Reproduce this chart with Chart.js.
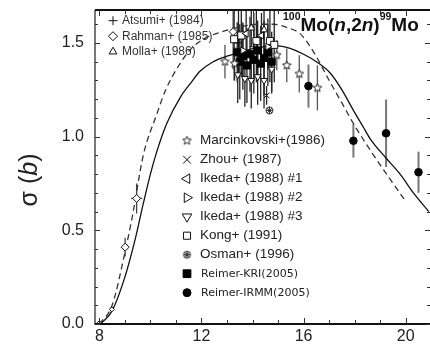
<!DOCTYPE html>
<html>
<head>
<meta charset="utf-8">
<script src="https://cdn.jsdelivr.net/npm/chart.js@4.4.1/dist/chart.umd.min.js"></script>
<style>
  body { margin: 0; background: #fff; }
</style>
</head>
<body>
<canvas id="grafico" width="430" height="345"></canvas>
<script>
const xTicks = [8, 12, 16, 20];
const yTicks = [0, 0.5, 1.0, 1.5];

// evaluation curves (E in MeV, sigma in b)
const solidE = [8.05, 8.5, 9.0, 9.4, 9.7, 10.0, 10.25, 10.64, 11.17, 11.6, 11.95, 12.46, 13.0, 13.5, 14.0, 14.5, 15.0, 15.5, 16.0, 16.5, 17.04, 17.5, 17.95, 18.34, 18.6, 19.2, 19.78, 20.3, 20.9];
const solidS = [0.0, 0.07, 0.25, 0.45, 0.63, 0.80, 0.92, 1.07, 1.21, 1.29, 1.35, 1.40, 1.43, 1.45, 1.47, 1.48, 1.485, 1.47, 1.44, 1.40, 1.34, 1.25, 1.14, 1.05, 0.99, 0.89, 0.80, 0.70, 0.60];
const dashE = [8.0, 8.5, 9.0, 9.3, 9.72, 10.25, 10.6, 11.16, 11.6, 12.07, 12.8, 13.5, 14.2, 14.8, 15.4, 15.86, 16.4, 17.04, 17.5, 17.95, 18.6, 19.3, 19.97];
const dashS = [0.0, 0.10, 0.38, 0.58, 0.90, 1.12, 1.25, 1.39, 1.47, 1.52, 1.56, 1.585, 1.60, 1.60, 1.58, 1.55, 1.45, 1.29, 1.18, 1.07, 0.93, 0.79, 0.66];

// measurements: energy, cross section, error
const atsumiE = [13.45, 14.05];
const atsumiS = [1.50, 1.48];
const atsumiErr = [0.18, 0.18];

const rahmanE = [8.0, 8.49, 9.01, 9.46, 13.24];
const rahmanS = [0.004, 0.078, 0.41, 0.67, 1.56];
const rahmanErr = [0.005, 0.01, 0.05, 0.08, 0.2];
const rahmanEErr = [0, 0, 0.12, 0.22, 0];

const mollaE = [13.95, 14.45];
const mollaS = [1.58, 1.57];
const mollaErr = [0.1, 0.12];

const marcE = [12.92, 13.3, 14.95, 15.34, 15.83, 16.54];
const marcS = [1.40, 1.39, 1.435, 1.38, 1.335, 1.26];
const marcErr = [0.09, 0.09, 0.08, 0.09, 0.1, 0.12];

const zhouE = [14.55];
const zhouS = [1.22];
const zhouErr = [0.05];

const ikeda1E = [13.75, 14.35];
const ikeda1S = [1.55, 1.54];
const ikeda1Err = [0.12, 0.12];

const ikeda2E = [13.62, 14.6];
const ikeda2S = [1.46, 1.48];
const ikeda2Err = [0.14, 0.12];

const ikeda3E = [13.42, 13.7, 13.95, 14.2, 14.45, 14.75];
const ikeda3S = [1.33, 1.31, 1.30, 1.32, 1.30, 1.36];
const ikeda3Err = [0.15, 0.15, 0.15, 0.15, 0.15, 0.13];

const kongE = [13.28, 13.56, 14.15, 14.68, 14.85];
const kongS = [1.52, 1.54, 1.51, 1.51, 1.49];
const kongErr = [0.22, 0.22, 0.22, 0.22, 0.2];

const osmanE = [14.66];
const osmanS = [1.14];
const osmanErr = [0.02];

const kriE = [13.4, 13.5, 13.62, 13.78, 13.9, 14.05, 14.2, 14.32, 14.45, 14.6, 14.75];
const kriS = [1.45, 1.40, 1.43, 1.38, 1.44, 1.41, 1.46, 1.39, 1.42, 1.45, 1.40];
const kriErr = [0.16, 0.2, 0.18, 0.2, 0.2, 0.18, 0.16, 0.2, 0.2, 0.18, 0.16];

const irmmE = [16.19, 17.95, 19.23, 20.5];
const irmmS = [1.27, 0.978, 1.018, 0.81];
const irmmErr = [0.115, 0.09, 0.18, 0.11];

function pts(E, S, err, eErr) {
  return E.map((e, i) => ({ x: e, y: S[i], yErr: err ? err[i] : 0, xErr: eErr ? eErr[i] : 0 }));
}

function makeStar(r) {
  const c = document.createElement('canvas');
  const s = Math.ceil(r * 2 + 4);
  c.width = c.height = s;
  const g = c.getContext('2d');
  g.beginPath();
  for (let i = 0; i < 10; i++) {
    const rr = i % 2 ? r * 0.45 : r;
    const a = -Math.PI / 2 + i * Math.PI / 5;
    g.lineTo(s / 2 + rr * Math.cos(a), s / 2 + rr * Math.sin(a));
  }
  g.closePath();
  g.fillStyle = '#fff';
  g.fill();
  g.strokeStyle = '#222';
  g.lineWidth = 1;
  g.stroke();
  return c;
}

function makeOsman(r) {
  const c = document.createElement('canvas');
  const s = Math.ceil(r * 2 + 4);
  c.width = c.height = s;
  const g = c.getContext('2d');
  const m = s / 2;
  g.strokeStyle = '#333';
  g.lineWidth = 1;
  g.fillStyle = '#fff';
  g.beginPath(); g.arc(m, m, r, 0, Math.PI * 2); g.fill(); g.stroke();
  const d = r * 0.7;
  g.beginPath();
  g.moveTo(m - d, m - d); g.lineTo(m + d, m + d);
  g.moveTo(m + d, m - d); g.lineTo(m - d, m + d);
  g.moveTo(m, m - r); g.lineTo(m, m + r);
  g.moveTo(m - r, m); g.lineTo(m + r, m);
  g.stroke();
  return c;
}

const starImg = makeStar(4.5);
const osmanImg = makeOsman(3.5);

function series(label, data, style, extra) {
  return Object.assign({
    label: label,
    data: data,
    pointStyle: style,
    pointRadius: 4,
    pointBorderWidth: 1,
    borderColor: '#111',
    backgroundColor: '#fff',
    errorBarColor: '#222',
    showLine: false
  }, extra || {});
}

const datasets = [
  series('Atsumi+ (1984)', pts(atsumiE, atsumiS, atsumiErr), 'cross', { pointRadius: 4 }),
  series('Rahman+ (1985)', pts(rahmanE, rahmanS, rahmanErr, rahmanEErr), 'rectRot', { pointRadius: c => (c.raw && c.raw.y < 0.2 ? 2.5 : 4), errorBarColor: '#444' }),
  series('Molla+ (1986)', pts(mollaE, mollaS, mollaErr), 'triangle'),
  series('Marcinkovski+(1986)', pts(marcE, marcS, marcErr), starImg, { errorBarColor: '#555' }),
  series('Zhou+ (1987)', pts(zhouE, zhouS, zhouErr), 'crossRot'),
  series('Ikeda+ (1988) #1', pts(ikeda1E, ikeda1S, ikeda1Err), 'triangle', { pointRotation: -90 }),
  series('Ikeda+ (1988) #2', pts(ikeda2E, ikeda2S, ikeda2Err), 'triangle', { pointRotation: 90 }),
  series('Ikeda+ (1988) #3', pts(ikeda3E, ikeda3S, ikeda3Err), 'triangle', { pointRotation: 180 }),
  series('Kong+ (1991)', pts(kongE, kongS, kongErr), 'rect', { pointRadius: 5 }),
  series('Osman+ (1996)', pts(osmanE, osmanS, osmanErr), osmanImg),
  series('Reimer-KRI(2005)', pts(kriE, kriS, kriErr), 'rect', { pointRadius: 5, backgroundColor: '#000', borderColor: '#000' }),
  series('Reimer-IRMM(2005)', pts(irmmE, irmmS, irmmErr), 'circle', { pointRadius: 3.8, backgroundColor: '#000', borderColor: '#000', errorBarColor: '#777', errorBarWidth: 2 }),
  {
    label: 'eval', data: solidE.map((e, i) => ({ x: e, y: solidS[i] })),
    showLine: true, borderColor: '#111', borderWidth: 1.3, pointRadius: 0,
    cubicInterpolationMode: 'monotone', order: 1, noLegend: true
  },
  {
    label: 'eval2', data: dashE.map((e, i) => ({ x: e, y: dashS[i] })),
    showLine: true, borderColor: '#333', borderWidth: 1.3, borderDash: [6, 4], pointRadius: 0,
    cubicInterpolationMode: 'monotone', order: 1, noLegend: true
  }
];

function drawMarker(ctx, ds, x, y, r) {
  ctx.save();
  ctx.fillStyle = ds.backgroundColor;
  ctx.strokeStyle = ds.borderColor;
  ctx.lineWidth = 1;
  const style = ds.pointStyle;
  if (style instanceof HTMLCanvasElement) {
    ctx.drawImage(style, x - style.width / 2, y - style.height / 2);
  } else {
    Chart.helpers.drawPoint(ctx, { pointStyle: style, radius: r, rotation: ds.pointRotation || 0, borderWidth: 1 }, x, y);
  }
  ctx.restore();
}

const decor = {
  id: 'decor',
  beforeDatasetsDraw(chart) {
    const { ctx, chartArea: a, scales: { x, y } } = chart;
    ctx.save();
    ctx.beginPath();
    ctx.rect(a.left, a.top, a.right - a.left, a.bottom - a.top);
    ctx.clip();
    chart.data.datasets.forEach(ds => {
      if (ds.noLegend) return;
      ctx.strokeStyle = ds.errorBarColor;
      ctx.lineWidth = ds.errorBarWidth || 1.3;
      ds.data.forEach(p => {
        const px = x.getPixelForValue(p.x), py = y.getPixelForValue(p.y);
        ctx.beginPath();
        if (p.yErr) {
          ctx.moveTo(px, y.getPixelForValue(p.y - p.yErr));
          ctx.lineTo(px, y.getPixelForValue(p.y + p.yErr));
        }
        if (p.xErr) {
          ctx.moveTo(x.getPixelForValue(p.x - p.xErr), py);
          ctx.lineTo(x.getPixelForValue(p.x + p.xErr), py);
        }
        ctx.stroke();
      });
    });
    ctx.restore();
  },
  afterDraw(chart) {
    const { ctx, chartArea: a, scales: { x, y } } = chart;
    ctx.save();
    // frame
    ctx.strokeStyle = '#777';
    ctx.lineWidth = 2;
    ctx.beginPath(); ctx.moveTo(a.left, a.top); ctx.lineTo(a.left, a.bottom + 1); ctx.stroke();
    ctx.strokeStyle = '#111';
    ctx.beginPath(); ctx.moveTo(a.left, a.bottom); ctx.lineTo(a.right, a.bottom); ctx.stroke();
    ctx.beginPath(); ctx.moveTo(a.left, a.top); ctx.lineTo(a.right, a.top); ctx.stroke();
    // inward ticks
    ctx.lineWidth = 1;
    ctx.strokeStyle = '#333';
    for (let v = 8; v <= 20; v++) {
      const px = Math.round(x.getPixelForValue(v)) + 0.5;
      const len = v % 4 === 0 ? 6 : 4;
      ctx.beginPath();
      ctx.moveTo(px, a.bottom); ctx.lineTo(px, a.bottom - len);
      ctx.moveTo(px, a.top); ctx.lineTo(px, a.top + len);
      ctx.stroke();
    }
    for (let k = 0; k <= 16; k++) {
      const py = Math.round(y.getPixelForValue(k / 10)) + 0.5;
      const len = k % 5 === 0 ? 5 : 3;
      ctx.beginPath();
      ctx.moveTo(a.left, py); ctx.lineTo(a.left + len, py);
      ctx.moveTo(a.right, py); ctx.lineTo(a.right - len, py);
      ctx.stroke();
    }
    // y title: sigma (b)
    ctx.save();
    ctx.translate(30, 180);
    ctx.rotate(-Math.PI / 2);
    ctx.fillStyle = '#222';
    ctx.textBaseline = 'middle';
    const p1 = 'σ (', p2 = 'b', p3 = ')';
    ctx.font = '25px "Liberation Sans"';
    const w1 = ctx.measureText(p1).width, w3 = ctx.measureText(p3).width;
    ctx.font = 'italic 25px "Liberation Sans"';
    const w2 = ctx.measureText(p2).width;
    let tx = -(w1 + w2 + w3) / 2;
    ctx.textAlign = 'left';
    ctx.font = '25px "Liberation Sans"';
    ctx.fillText(p1, tx, 0); tx += w1;
    ctx.font = 'italic 25px "Liberation Sans"';
    ctx.fillText(p2, tx, 0); tx += w2;
    ctx.font = '25px "Liberation Sans"';
    ctx.fillText(p3, tx, 0);
    ctx.restore();
    // reaction label
    ctx.fillStyle = '#111';
    ctx.textBaseline = 'alphabetic';
    ctx.textAlign = 'left';
    let hx = 283;
    const parts = [
      ['100', 'bold 10.5px "Liberation Sans"', 20],
      ['Mo(', 'bold 19px "Liberation Sans"', 31],
      ['n', 'italic bold 19px "Liberation Sans"', 31],
      [',2', 'bold 19px "Liberation Sans"', 31],
      ['n', 'italic bold 19px "Liberation Sans"', 31],
      [')', 'bold 19px "Liberation Sans"', 31],
      ['99', 'bold 10.5px "Liberation Sans"', 20],
      ['Mo', 'bold 19px "Liberation Sans"', 31]
    ];
    parts.forEach(([t, f, by]) => {
      ctx.font = f;
      ctx.fillText(t, hx, by);
      hx += ctx.measureText(t).width;
    });
    // legends
    const ds = chart.data.datasets.filter(d => !d.noLegend);
    ctx.textBaseline = 'middle';
    ds.forEach((d, i) => {
      let mx, my, tx2, font;
      if (i < 3) {
        mx = 113; my = 20.7 + i * 15.5; tx2 = 122; font = '12px "Liberation Sans"';
        drawMarker(ctx, d, mx, my, 4.5);
        ctx.fillStyle = '#333';
      } else {
        const j = i - 3;
        mx = 187; my = 140.7 + j * 19; tx2 = j < 7 ? 200 : 201;
        font = j < 7 ? '13.5px "Liberation Sans"' : '11px "DejaVu Sans"';
        const r = j === 5 ? 5 : (j === 8 ? 4 : 5.5);
        drawMarker(ctx, d, mx, my, r);
        ctx.fillStyle = '#222';
      }
      ctx.font = font;
      ctx.fillText(d.label, tx2, my);
    });
    ctx.restore();
  }
};

const tickFont = { family: 'Liberation Sans', size: 16 };

const myChart = new Chart(document.getElementById('grafico'), {
  type: 'scatter',
  data: { datasets: datasets },
  options: {
    responsive: false,
    animation: false,
    devicePixelRatio: 1,
    layout: { autoPadding: false, padding: { top: 10, right: 0, left: 0, bottom: 0 } },
    plugins: { legend: { display: false }, tooltip: { enabled: false } },
    scales: {
      x: {
        type: 'linear',
        min: 7.83,
        max: 20.95,
        afterBuildTicks: s => { s.ticks = xTicks.map(v => ({ value: v })); },
        afterFit: s => { s.height = 21; s.paddingLeft = 0; s.paddingRight = 0; },
        grid: { display: false, drawTicks: false },
        border: { display: false },
        ticks: { padding: 3, font: tickFont, color: '#222', maxRotation: 0, callback: v => String(v) }
      },
      y: {
        type: 'linear',
        min: 0,
        max: 1.676,
        afterBuildTicks: s => { s.ticks = yTicks.map(v => ({ value: v })); },
        afterFit: s => { s.width = 95; s.paddingTop = 0; s.paddingBottom = 0; },
        grid: { display: false, drawTicks: false },
        border: { display: false },
        ticks: { padding: 11, font: tickFont, color: '#222', callback: v => v.toFixed(1) }
      }
    }
  },
  plugins: [decor]
});
</script>
</body>
</html>
